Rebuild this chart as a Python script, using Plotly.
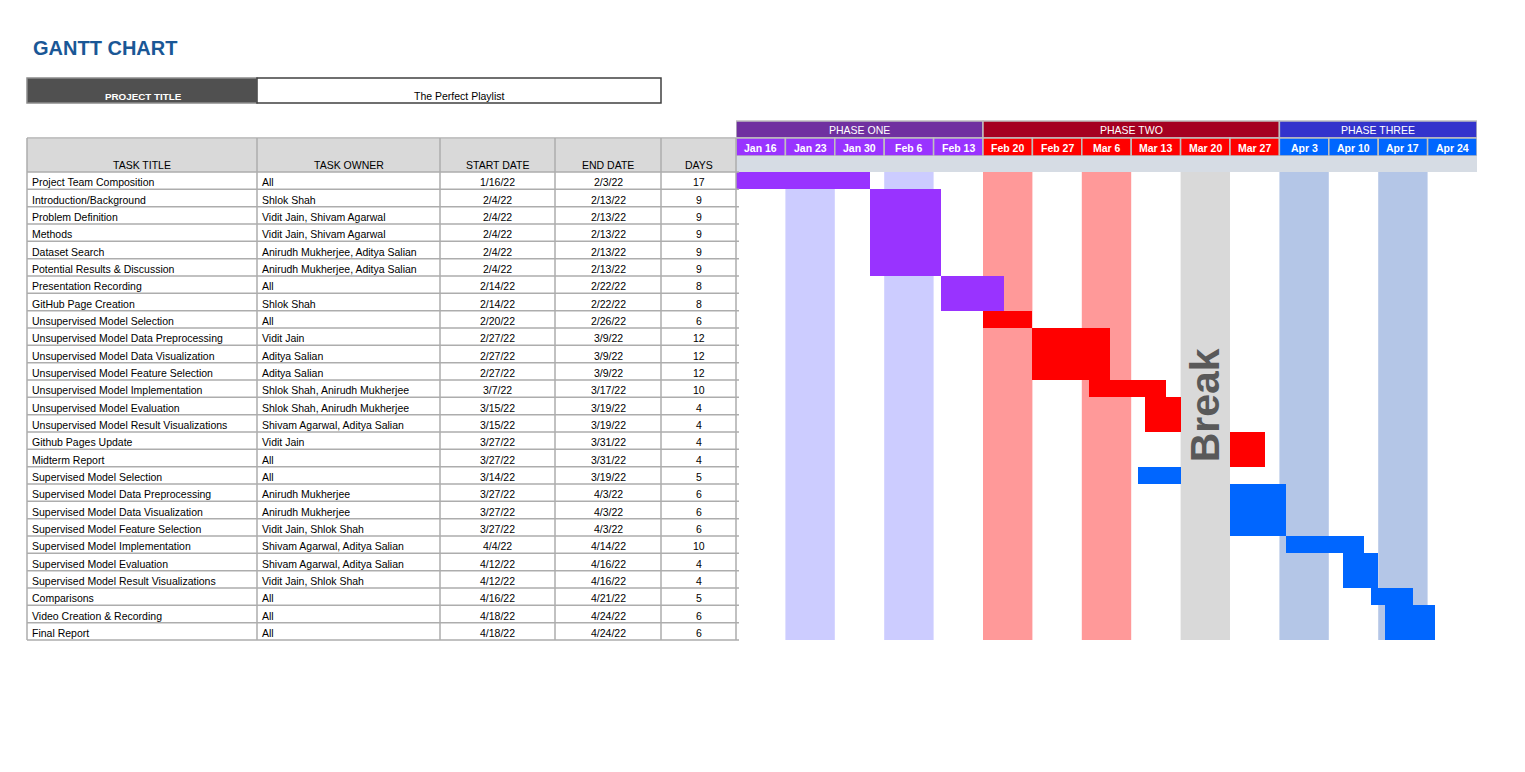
import plotly.graph_objects as go
import pandas as pd

W, H = 1525, 772
FONT = "Liberation Sans, Arial, sans-serif"

# ---------------- data ----------------
chart_title = "GANTT CHART"
project_title_label = "PROJECT TITLE"
project_title = "The Perfect Playlist"

column_headers = ["TASK TITLE", "TASK OWNER", "START DATE", "END DATE", "DAYS"]

tasks = [
    "Project Team Composition", "Introduction/Background", "Problem Definition", "Methods",
    "Dataset Search", "Potential Results & Discussion", "Presentation Recording",
    "GitHub Page Creation", "Unsupervised Model Selection", "Unsupervised Model Data Preprocessing",
    "Unsupervised Model Data Visualization", "Unsupervised Model Feature Selection",
    "Unsupervised Model Implementation", "Unsupervised Model Evaluation",
    "Unsupervised Model Result Visualizations", "Github Pages Update", "Midterm Report",
    "Supervised Model Selection", "Supervised Model Data Preprocessing",
    "Supervised Model Data Visualization", "Supervised Model Feature Selection",
    "Supervised Model Implementation", "Supervised Model Evaluation",
    "Supervised Model Result Visualizations", "Comparisons", "Video Creation & Recording",
    "Final Report",
]
owners = [
    "All", "Shlok Shah", "Vidit Jain, Shivam Agarwal", "Vidit Jain, Shivam Agarwal",
    "Anirudh Mukherjee, Aditya Salian", "Anirudh Mukherjee, Aditya Salian", "All", "Shlok Shah",
    "All", "Vidit Jain", "Aditya Salian", "Aditya Salian", "Shlok Shah, Anirudh Mukherjee",
    "Shlok Shah, Anirudh Mukherjee", "Shivam Agarwal, Aditya Salian", "Vidit Jain", "All", "All",
    "Anirudh Mukherjee", "Anirudh Mukherjee", "Vidit Jain, Shlok Shah",
    "Shivam Agarwal, Aditya Salian", "Shivam Agarwal, Aditya Salian", "Vidit Jain, Shlok Shah",
    "All", "All", "All",
]
start_dates = [
    "1/16/22", "2/4/22", "2/4/22", "2/4/22", "2/4/22", "2/4/22", "2/14/22", "2/14/22",
    "2/20/22", "2/27/22", "2/27/22", "2/27/22", "3/7/22", "3/15/22", "3/15/22", "3/27/22",
    "3/27/22", "3/14/22", "3/27/22", "3/27/22", "3/27/22", "4/4/22", "4/12/22", "4/12/22",
    "4/16/22", "4/18/22", "4/18/22",
]
end_dates = [
    "2/3/22", "2/13/22", "2/13/22", "2/13/22", "2/13/22", "2/13/22", "2/22/22", "2/22/22",
    "2/26/22", "3/9/22", "3/9/22", "3/9/22", "3/17/22", "3/19/22", "3/19/22", "3/31/22",
    "3/31/22", "3/19/22", "4/3/22", "4/3/22", "4/3/22", "4/14/22", "4/16/22", "4/16/22",
    "4/21/22", "4/24/22", "4/24/22",
]
days = [17, 9, 9, 9, 9, 9, 8, 8, 6, 12, 12, 12, 10, 4, 4, 4, 4, 5, 6, 6, 6, 10, 4, 4, 5, 6, 6]
task_phase = [0, 0, 0, 0, 0, 0, 0, 0, 1, 1, 1, 1, 1, 1, 1, 1, 1,
              2, 2, 2, 2, 2, 2, 2, 2, 2, 2]

week_labels = ["Jan 16", "Jan 23", "Jan 30", "Feb 6", "Feb 13", "Feb 20", "Feb 27", "Mar 6",
               "Mar 13", "Mar 20", "Mar 27", "Apr 3", "Apr 10", "Apr 17", "Apr 24"]
week_starts = ["2022-01-16", "2022-01-23", "2022-01-30", "2022-02-06", "2022-02-13",
               "2022-02-20", "2022-02-27", "2022-03-06", "2022-03-13", "2022-03-20",
               "2022-03-27", "2022-04-03", "2022-04-10", "2022-04-17", "2022-04-24"]
week_stripes = [None, "#CCCCFF", None, "#CCCCFF", None, "#FF9999", None, "#FF9999",
                None, "#D9D9D9", None, "#B4C6E7", None, "#B4C6E7", None]
break_week = "Mar 20"
break_text = "Break"

phase_names = ["PHASE ONE", "PHASE TWO", "PHASE THREE"]
phase_week_counts = [5, 6, 4]
phase_header_colors = ["#7030A0", "#A50021", "#3333CC"]
phase_week_colors = ["#9933FF", "#FF0000", "#0066FF"]
phase_bar_colors = ["#9933FF", "#FF0000", "#0066FF"]

# ---------------- helpers ----------------
def px(x):
    return x / W


def py(y):
    return 1 - y / H


annotations = []
shapes = []


def text(x, y, s, size=10.5, color="#000000", bold=False, xanchor="center", xref="paper",
         family=FONT, **kw):
    annotations.append(dict(
        x=x if xref != "paper" else px(x), y=py(y), xref=xref, yref="paper",
        text=f"<b>{s}</b>" if bold else s, showarrow=False, xanchor=xanchor,
        yanchor="middle", font=dict(size=size, color=color, family=family), **kw))


def rect(x0, y0, x1, y1, fill, line=None, lw=0, xref="paper", layer="below"):
    shapes.append(dict(
        type="rect", xref=xref, yref="paper",
        x0=x0 if xref != "paper" else px(x0), x1=x1 if xref != "paper" else px(x1),
        y0=py(y0), y1=py(y1), fillcolor=fill,
        line=dict(color=line or "rgba(0,0,0,0)", width=lw), layer=layer))


def hline(x0, x1, y, color="#ADADAD", width=1.5):
    shapes.append(dict(type="line", xref="paper", yref="paper", x0=px(x0), x1=px(x1),
                       y0=py(y), y1=py(y), line=dict(color=color, width=width), layer="above"))


def vline(x, y0, y1, color="#ADADAD", width=1.5):
    shapes.append(dict(type="line", xref="paper", yref="paper", x0=px(x), x1=px(x),
                       y0=py(y0), y1=py(y1), line=dict(color=color, width=width), layer="above"))


# ---------------- geometry ----------------
n = len(tasks)
ROW_TOP, ROW_BOT = 172, 640
row_h = (ROW_BOT - ROW_TOP) / n
col_edges = [27, 257, 440, 555, 661, 736]
col_align = ["left", "left", "center", "center", "center"]
GANTT_L, GANTT_R = 736, 1477

week_ts = [pd.Timestamp(w) for w in week_starts]
x_start = week_ts[0]
x_end = week_ts[-1] + pd.Timedelta(days=7)


def xd(ts):
    return ts.strftime("%Y-%m-%d %H:%M:%S")


# ---------------- title block ----------------
text(31, 48, chart_title, size=20, color="#1A5796", bold=True, xanchor="left")
rect(27, 78, 257, 103, "#505050", "#8C8C8C", 1.5)
rect(257, 78, 661, 103, "#FFFFFF", "#404040", 1.5)
text(143, 96, project_title_label, size=9.8, color="#FFFFFF", bold=True)
text(459, 96, project_title, size=10.5)

# ---------------- table ----------------
rect(col_edges[0], 138, col_edges[-1], ROW_TOP, "#D9D9D9")
hline(col_edges[0], col_edges[-1], 138, color="#C4C4C4", width=2)
for j, hdr in enumerate(column_headers):
    text((col_edges[j] + col_edges[j + 1]) / 2, 165, hdr)
for i in range(n + 1):
    hline(col_edges[0], col_edges[-1] + 3, ROW_TOP + i * row_h)
for x in col_edges:
    vline(x, 138, ROW_BOT)

for i in range(n):
    yc = ROW_TOP + (i + 0.5) * row_h + 1.5
    vals = [tasks[i], owners[i], start_dates[i], end_dates[i], str(days[i])]
    for j, v in enumerate(vals):
        if col_align[j] == "left":
            text(col_edges[j] + 3, yc, v, xanchor="left")
        else:
            text((col_edges[j] + col_edges[j + 1]) / 2, yc, v)

# ---------------- gantt header ----------------
wi = 0
for p, cnt in enumerate(phase_week_counts):
    p0 = week_ts[wi]
    p1 = week_ts[wi + cnt - 1] + pd.Timedelta(days=7)
    rect(xd(p0), 121, xd(p1), 138, phase_header_colors[p], "#BFBFBF", 1.5, xref="x")
    text(xd(p0 + (p1 - p0) / 2), 129.5, phase_names[p], color="#FFFFFF", xref="x")
    for k in range(wi, wi + cnt):
        w0 = week_ts[k]
        w1 = w0 + pd.Timedelta(days=7)
        rect(xd(w0), 138, xd(w1), 156, phase_week_colors[p], "#BFBFBF", 1.5, xref="x")
        text(xd(w0 + pd.Timedelta(hours=84)), 147.5, week_labels[k], color="#FFFFFF",
             bold=True, xref="x")
    wi += cnt

rect(xd(x_start), 156, xd(x_end), ROW_TOP, "#D6DCE4", xref="x")

# stripes
for k, c in enumerate(week_stripes):
    if c:
        rect(xd(week_ts[k]), ROW_TOP, xd(week_ts[k] + pd.Timedelta(days=7)), ROW_BOT, c,
             xref="x")

bk = week_labels.index(break_week)
text(xd(week_ts[bk] + pd.Timedelta(hours=84)), 405, break_text, size=41, color="#595959",
     bold=True, xref="x", textangle=-90)

# ---------------- bars ----------------
starts = pd.to_datetime(start_dates, format="%m/%d/%y")
ends = pd.to_datetime(end_dates, format="%m/%d/%y") + pd.Timedelta(days=1)
durations_ms = [(e - s).total_seconds() * 1000 for s, e in zip(starts, ends)]

fig = go.Figure()
fig.add_trace(go.Bar(
    y=list(range(n)), x=durations_ms, base=[s.strftime("%Y-%m-%d") for s in starts],
    orientation="h", width=1.0,
    marker=dict(color=[phase_bar_colors[p] for p in task_phase], line=dict(width=0)),
    hovertext=tasks, hoverinfo="text", showlegend=False,
))

fig.update_layout(
    width=W, height=H, margin=dict(l=0, r=0, t=0, b=0),
    paper_bgcolor="#FFFFFF", plot_bgcolor="rgba(0,0,0,0)",
    xaxis=dict(type="date", range=[xd(x_start), xd(x_end)], domain=[px(GANTT_L), px(GANTT_R)],
               showgrid=False, zeroline=False, showticklabels=False, showline=False,
               ticks="", fixedrange=True),
    yaxis=dict(range=[n - 0.5, -0.5], domain=[py(ROW_BOT), py(ROW_TOP)], showgrid=False,
               zeroline=False, showticklabels=False, showline=False, ticks="",
               fixedrange=True),
    bargap=0, shapes=shapes, annotations=annotations, showlegend=False,
)

fig.write_html("out.html")
